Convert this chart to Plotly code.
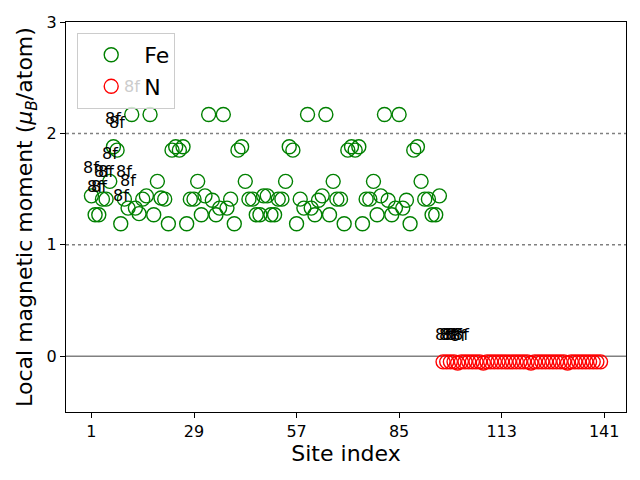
import plotly.graph_objects as go

fe_sites = list(range(1, 97))
fe_moments = [
    1.44, 1.27, 1.27, 1.41, 1.41, 1.57, 1.88, 1.85, 1.19, 1.41,
    1.33, 2.17, 1.33, 1.28, 1.41, 1.44, 2.17, 1.27, 1.57, 1.42,
    1.41, 1.19, 1.85, 1.88, 1.85, 1.88, 1.19, 1.41, 1.41, 1.57,
    1.27, 1.44, 2.17, 1.40, 1.27, 1.33, 2.17, 1.33, 1.41, 1.19,
    1.85, 1.88, 1.57, 1.41, 1.41, 1.27, 1.27, 1.44, 1.44, 1.27,
    1.27, 1.41, 1.41, 1.57, 1.88, 1.85, 1.19, 1.41, 1.33, 2.17,
    1.33, 1.27, 1.40, 1.44, 2.17, 1.27, 1.57, 1.41, 1.41, 1.19,
    1.85, 1.88, 1.85, 1.88, 1.19, 1.41, 1.41, 1.57, 1.27, 1.44,
    2.17, 1.40, 1.27, 1.33, 2.17, 1.33, 1.40, 1.19, 1.85, 1.88,
    1.57, 1.41, 1.41, 1.27, 1.27, 1.44,
]
n_sites = list(range(97, 141))
n_moments = [
    -0.05, -0.05, -0.05, -0.05, -0.06, -0.05, -0.05, -0.05, -0.05, -0.05,
    -0.05, -0.06, -0.05, -0.05, -0.05, -0.05, -0.05, -0.05, -0.05, -0.05,
    -0.05, -0.05, -0.05, -0.05, -0.06, -0.05, -0.05, -0.05, -0.05, -0.05,
    -0.05, -0.05, -0.05, -0.05, -0.06, -0.05, -0.05, -0.05, -0.05, -0.05,
    -0.05, -0.05, -0.05, -0.05,
]
label_text = "8f"
fe_labeled = 12
n_labeled = 6
x_ticks = [1, 29, 57, 85, 113, 141]
y_ticks = [0, 1, 2, 3]

FONT = "DejaVu Sans"

fig = go.Figure()
fig.add_trace(go.Scatter(
    x=fe_sites, y=fe_moments, mode="markers", name="Fe",
    marker=dict(symbol="circle-open", size=14, color="#008000", line=dict(width=1.4, color="#008000")),
))
fig.add_trace(go.Scatter(
    x=n_sites, y=n_moments, mode="markers", name="N",
    marker=dict(symbol="circle-open", size=14, color="#ff0000", line=dict(width=1.4, color="#ff0000")),
))

annotations = []
for s, m in list(zip(fe_sites, fe_moments))[:fe_labeled] + list(zip(n_sites, n_moments))[:n_labeled]:
    ly = m + 0.25
    # labels that sit beneath the semi-transparent legend box appear faded
    col = "#cccccc" if (ly > 2.3 and s < 25) else "black"
    annotations.append(dict(x=s, y=ly, text=label_text, showarrow=False,
                            xanchor="center", yanchor="middle",
                            font=dict(family=FONT, size=16, color=col)))

shapes = [
    dict(type="line", xref="paper", x0=0, x1=1, yref="y", y0=0, y1=0,
         line=dict(color="#808080", width=1.5), layer="below"),
    dict(type="line", xref="paper", x0=0, x1=1, yref="y", y0=1, y1=1,
         line=dict(color="#808080", width=1.5, dash="dot"), layer="below"),
    dict(type="line", xref="paper", x0=0, x1=1, yref="y", y0=2, y1=2,
         line=dict(color="#808080", width=1.5, dash="dot"), layer="below"),
]

fig.update_layout(
    width=640, height=480,
    margin=dict(l=66, r=14, t=22, b=68),
    plot_bgcolor="white", paper_bgcolor="white",
    font=dict(family=FONT, color="black"),
    annotations=annotations, shapes=shapes,
    legend=dict(x=0.02, y=0.972, xanchor="left", yanchor="top",
                bgcolor="rgba(255,255,255,0.8)", bordercolor="#cccccc", borderwidth=1,
                font=dict(family=FONT, size=22), itemwidth=56),
    xaxis=dict(range=[-5.95, 146.95], tickvals=x_ticks, ticks="outside", ticklen=5,
               tickwidth=1, tickcolor="black", showline=True, linecolor="black", linewidth=1,
               mirror=True, showgrid=False, zeroline=False,
               tickfont=dict(family=FONT, size=16),
               title=dict(text="Site index", font=dict(family=FONT, size=22), standoff=5)),
    yaxis=dict(range=[-0.5, 3], tickvals=y_ticks, ticks="outside", ticklen=5,
               tickwidth=1, tickcolor="black", showline=True, linecolor="black", linewidth=1,
               mirror=True, showgrid=False, zeroline=False,
               tickfont=dict(family=FONT, size=16),
               title=dict(text="Local magnetic moment (<i>μ</i><sub><i>B</i></sub>/atom)",
                          font=dict(family=FONT, size=22), standoff=7)),
)

fig.write_html("out.html")
